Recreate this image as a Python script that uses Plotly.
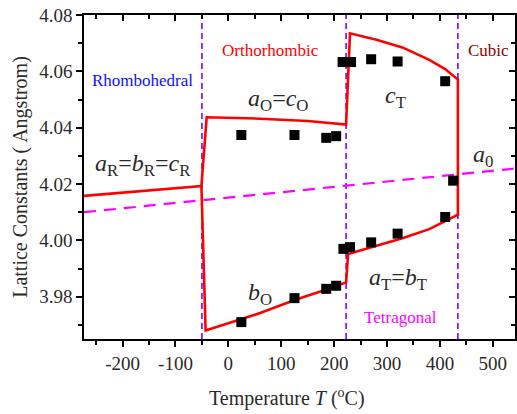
import plotly.graph_objects as go

# Red model curve (lattice constants), one continuous path
curve_T = [-273, -51, -41, 60, 150, 222.6, 230, 280, 329, 380, 410, 434,
           434, 380, 329, 280, 226.4, 222.6, 180, 128, 60, -43, -51]
curve_a = [4.0158, 4.0193, 4.0437, 4.0432, 4.0424, 4.0411, 4.0735, 4.0712, 4.0685, 4.0641, 4.0608, 4.0571,
           4.0091, 4.0040, 4.0008, 3.9982, 3.9952, 3.9851, 3.9822, 3.9790, 3.9742, 3.9680, 4.0193]

# Pseudo-cubic a0 (dashed magenta)
a0_T = [-273, 542]
a0_a = [4.0100, 4.0255]

# Measured points
pts_T = [24.5, 125, 185, 203.8, 216, 232, 270, 320, 410, 425,
         24.5, 125, 185, 203.8, 217.5, 230, 270, 320, 410]
pts_a = [4.0374, 4.0374, 4.0364, 4.0370, 4.0633, 4.0633, 4.0643, 4.0635, 4.0565, 4.0212,
         3.9710, 3.9795, 3.9828, 3.9839, 3.9970, 3.9976, 3.9993, 4.0024, 4.0083]

# Phase boundaries
bound_T = [-50, 222.6, 434]

# Tick labels
x_ticks = [-200, -100, 0, 100, 200, 300, 400, 500]
x_ticklabels = ["-200", "-100", "0", "100", "200", "300", "400", "500"]
y_ticks = [3.98, 4.00, 4.02, 4.04, 4.06, 4.08]
y_ticklabels = ["3.98", "4.00", "4.02", "4.04", "4.06", "4.08"]

X_RANGE = [-273, 542]
Y_RANGE = [3.965, 4.08]

FONT = "Liberation Serif"
TXT = "#2a2a2a"
fig = go.Figure()

for bt in bound_T:
    fig.add_trace(go.Scatter(x=[bt, bt], y=Y_RANGE, mode="lines",
                             line=dict(color="#7F00FF", width=1.6, dash="6px,4px"),
                             showlegend=False, hoverinfo="skip"))

fig.add_trace(go.Scatter(x=a0_T, y=a0_a, mode="lines",
                         line=dict(color="#FF00FF", width=2.2, dash="12px,8px"),
                         showlegend=False))
fig.add_trace(go.Scatter(x=curve_T, y=curve_a, mode="lines",
                         line=dict(color="#FF0000", width=2.6),
                         showlegend=False))
fig.add_trace(go.Scatter(x=pts_T, y=pts_a, mode="markers",
                         marker=dict(symbol="square", size=10, color="black"),
                         showlegend=False))
# invisible trace for mirrored axes
fig.add_trace(go.Scatter(x=X_RANGE, y=Y_RANGE, xaxis="x2", yaxis="y2", mode="markers",
                         marker=dict(opacity=0), showlegend=False, hoverinfo="skip"))

ann = [
    (-163, 4.0568, "Rhombohedral", "#1010FF", 17),
    (79, 4.0675, "Orthorhombic", "#FF0000", 17),
    (492, 4.0675, "Cubic", "#8B0000", 17),
    (326, 3.9726, "Tetragonal", "#FF00FF", 17),
    (93, 4.0497, "<i>a</i><sub>O</sub>=<i>c</i><sub>O</sub>", TXT, 24),
    (316, 4.0510, "<i>c</i><sub>T</sub>", TXT, 24),
    (-161, 4.0268, "<i>a</i><sub>R</sub>=<i>b</i><sub>R</sub>=<i>c</i><sub>R</sub>", TXT, 24),
    (482, 4.0300, "<i>a</i><sub>0</sub>", TXT, 24),
    (59, 3.9808, "<i>b</i><sub>O</sub>", TXT, 24),
    (320, 3.9862, "<i>a</i><sub>T</sub>=<i>b</i><sub>T</sub>", TXT, 24),
]
for x, y, t, c, s in ann:
    fig.add_annotation(x=x, y=y, text=t, showarrow=False,
                       font=dict(family=FONT, size=s, color=c))

# x-axis title (placed slightly left of plot centre, as in the reference)
fig.add_annotation(xref="paper", yref="paper", x=0.472, y=-0.181, yanchor="middle",
                   text="Temperature <i>T</i> (<sup>o</sup>C)", showarrow=False,
                   font=dict(family=FONT, size=20, color=TXT))

axis_common = dict(showline=True, linecolor="black", linewidth=1.5, showgrid=False,
                   zeroline=False, tickcolor="black", tickwidth=1.5)

fig.update_layout(
    width=517, height=414,
    margin=dict(l=84, r=2, t=15, b=75),
    paper_bgcolor="white", plot_bgcolor="white",
    font=dict(family=FONT, size=19, color=TXT),
    xaxis=dict(range=X_RANGE, tickmode="array", tickvals=x_ticks, ticktext=x_ticklabels,
               ticks="outside", ticklen=6,
               minor=dict(dtick=50, tick0=0, ticks="outside", ticklen=4, tickcolor="black", tickwidth=1.5),
               tickfont=dict(family=FONT, size=19), **axis_common),
    yaxis=dict(range=Y_RANGE, tickmode="array", tickvals=y_ticks, ticktext=y_ticklabels,
               ticks="outside", ticklen=6,
               minor=dict(dtick=0.01, tick0=3.98, ticks="outside", ticklen=4, tickcolor="black", tickwidth=1.5),
               title=dict(text="Lattice Constants ( Angstrom)", font=dict(family=FONT, size=20), standoff=6),
               tickfont=dict(family=FONT, size=19), **axis_common),
    xaxis2=dict(range=X_RANGE, overlaying="x", side="top", tickmode="array", tickvals=x_ticks,
                ticks="inside", ticklen=6,
                minor=dict(dtick=50, tick0=0, ticks="inside", ticklen=4, tickcolor="black", tickwidth=1.5),
                showticklabels=False, **axis_common),
    yaxis2=dict(range=Y_RANGE, overlaying="y", side="right", tickmode="array", tickvals=y_ticks,
                ticks="inside", ticklen=6,
                minor=dict(dtick=0.01, tick0=3.98, ticks="inside", ticklen=4, tickcolor="black", tickwidth=1.5),
                showticklabels=False, **axis_common),
)

fig.write_html("out.html", config={"displayModeBar": False},
               post_script="document.body.style.margin='0';document.body.style.overflow='hidden';")
